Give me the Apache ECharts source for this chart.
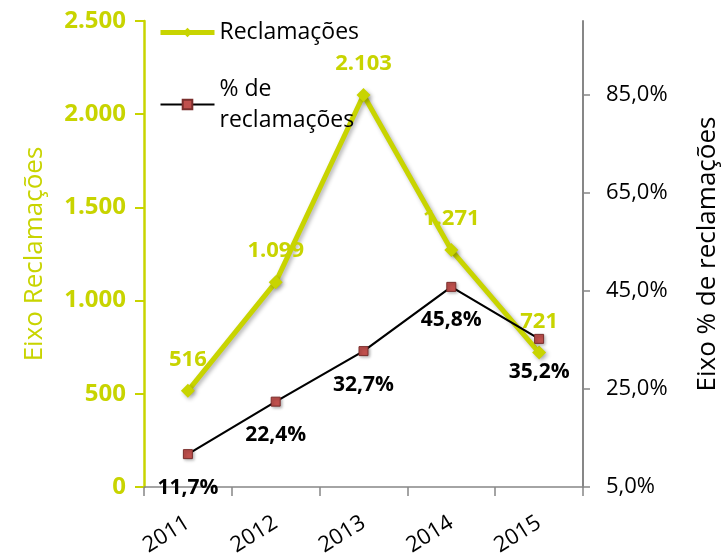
<!DOCTYPE html>
<html>
<head>
<meta charset="utf-8">
<script src="https://cdn.jsdelivr.net/npm/echarts@6/dist/echarts.min.js"></script>
<style>
html,body{margin:0;padding:0;background:#fff;}
#chart{width:725px;height:553px;}
</style>
</head>
<body>
<div id="chart"></div>
<script>
const years = ['2011', '2012', '2013', '2014', '2015'];
const reclamacoes = [516, 1099, 2103, 1271, 721];
const pctReclamacoes = [11.7, 22.4, 32.7, 45.8, 35.2];
const leftTicks = [0, 500, 1000, 1500, 2000, 2500];
const rightTicks = [5, 25, 45, 65, 85];

const LIME = '#c8d400';
const FONT = 'Open Sans';

function thousands(v) {
  return String(Math.round(v)).replace(/\B(?=(\d{3})+(?!\d))/g, '.');
}
function pct(v) {
  return v.toFixed(1).replace('.', ',') + '%';
}

const chart = echarts.init(document.getElementById('chart'), null, {renderer: 'canvas'});
chart.setOption({
  backgroundColor: '#ffffff',
  animation: false,
  textStyle: {fontFamily: FONT},
  grid: {left: 144, right: 142, top: 21, bottom: 66, containLabel: false, outerBoundsMode: 'none'},
  legend: {
    orient: 'vertical',
    left: 153,
    top: 12,
    itemWidth: 54,
    itemHeight: 12,
    itemGap: 10,
    lineStyle: {width: 'inherit'},
    textStyle: {fontFamily: FONT, fontSize: 23, color: '#000', lineHeight: 31},
    formatter: function (name) {
      return name === '% de reclamações' ? '% de\nreclamações' : name;
    },
    data: [
      {name: 'Reclamações'},
      {name: '% de reclamações', textStyle: {padding: [31, 0, 0, 0], fontFamily: FONT, fontSize: 23, color: '#000', lineHeight: 31}}
    ]
  },
  xAxis: {
    type: 'category',
    data: years,
    boundaryGap: true,
    axisLine: {show: true, lineStyle: {color: '#878787', width: 1.5}},
    axisTick: {show: true, interval: 0, length: 9, alignWithLabel: false, lineStyle: {color: '#878787', width: 1.5}},
    axisLabel: {rotate: 32, margin: 34, fontSize: 22, color: '#000', fontFamily: FONT, interval: 0},
    splitLine: {show: false}
  },
  yAxis: [
    {
      type: 'value',
      position: 'left',
      min: 0,
      max: 2500,
      interval: 500,
      name: 'Eixo Reclamações',
      nameLocation: 'middle',
      nameRotate: 90,
      nameGap: 96,
      nameTextStyle: {color: LIME, fontSize: 26, fontFamily: FONT},
      axisLine: {show: true, lineStyle: {color: LIME, width: 2.5}},
      axisTick: {show: true, length: 9, lineStyle: {color: LIME, width: 2}},
      axisLabel: {
        color: LIME, fontWeight: 'bold', fontSize: 24, fontFamily: FONT, margin: 18,
        formatter: function (v) { return thousands(v); }
      },
      splitLine: {show: false}
    },
    {
      type: 'value',
      position: 'right',
      min: 5,
      max: 100,
      name: 'Eixo % de reclamações',
      nameLocation: 'middle',
      nameRotate: 90,
      nameGap: 112,
      nameTextStyle: {color: '#000', fontSize: 26, fontFamily: FONT},
      axisLine: {show: true, lineStyle: {color: '#878787', width: 2}},
      axisTick: {show: true, length: 7, customValues: rightTicks, lineStyle: {color: '#878787', width: 1.5}},
      axisLabel: {
        color: '#000', fontSize: 22, fontFamily: FONT, margin: 23,
        customValues: rightTicks,
        formatter: function (v) { return pct(v); }
      },
      splitLine: {show: false}
    }
  ],
  series: [
    {
      name: 'Reclamações',
      type: 'line',
      yAxisIndex: 0,
      data: reclamacoes,
      smooth: false,
      symbol: 'diamond',
      symbolSize: 14,
      color: LIME,
      lineStyle: {color: LIME, width: 5, shadowColor: 'rgba(0,0,0,0.3)', shadowBlur: 4, shadowOffsetX: 2, shadowOffsetY: 2},
      itemStyle: {color: LIME, shadowColor: 'rgba(0,0,0,0.3)', shadowBlur: 4, shadowOffsetX: 2, shadowOffsetY: 2},
      label: {
        show: true, position: 'top', distance: 13,
        color: LIME, fontWeight: 'bold', fontSize: 22, fontFamily: FONT,
        formatter: function (p) { return thousands(p.value); }
      }
    },
    {
      name: '% de reclamações',
      type: 'line',
      yAxisIndex: 1,
      data: pctReclamacoes,
      symbol: 'rect',
      symbolSize: 9,
      color: '#c0504d',
      lineStyle: {color: '#000', width: 2.2},
      itemStyle: {color: '#c0504d', borderColor: '#7a2e2c', borderWidth: 1, shadowColor: 'rgba(0,0,0,0.3)', shadowBlur: 3, shadowOffsetX: 1.5, shadowOffsetY: 1.5},
      label: {
        show: true, position: 'bottom', distance: 18,
        color: '#000', fontWeight: 'bold', fontSize: 21, fontFamily: FONT,
        formatter: function (p) { return pct(p.value); }
      }
    }
  ]
});
</script>
</body>
</html>
